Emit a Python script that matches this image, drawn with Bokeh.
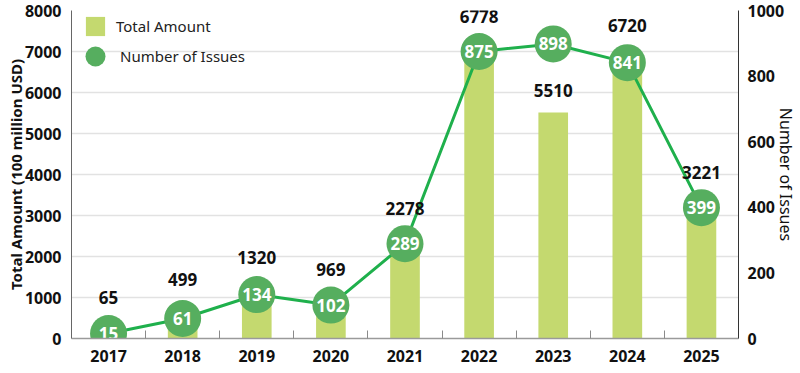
from bokeh.plotting import figure
from bokeh.models import (ColumnDataSource, Range1d, LinearAxis, FixedTicker,
                          Legend, LegendItem)
from bokeh.embed import file_html
from bokeh.resources import INLINE
from bokeh.core.properties import value

# ---- data ----
years = ["2017", "2018", "2019", "2020", "2021", "2022", "2023", "2024", "2025"]
total_amount = [65, 499, 1320, 969, 2278, 6778, 5510, 6720, 3221]
num_issues = [15, 61, 134, 102, 289, 875, 898, 841, 399]
amount_ticks = [0, 1000, 2000, 3000, 4000, 5000, 6000, 7000, 8000]
issues_ticks = [0, 200, 400, 600, 800, 1000]

# ---- styles ----
BAR = "#c4d96f"
DOT = "#56ae5f"
LINE = "#1fb04c"
FONT_NAME = "Noto Sans"
FONT = value(FONT_NAME)
label_lift = [38, 39, 27, 29, 37, 44, 22, 37, 34]  # px above bar top

xs = list(range(len(years)))
src = ColumnDataSource(dict(
    x=xs, amount=total_amount, issues=num_issues,
    amount_txt=[str(v) for v in total_amount],
    issues_txt=[str(v) for v in num_issues],
    lift=[-v for v in label_lift],
))

p = figure(width=800, height=373, x_range=Range1d(-0.5, len(years) - 0.5),
           y_range=Range1d(amount_ticks[0], amount_ticks[-1]),
           output_backend="svg", toolbar_location=None,
           min_border_left=71, min_border_right=62, min_border_top=10, min_border_bottom=35)
p.extra_y_ranges = {"issues": Range1d(issues_ticks[0], issues_ticks[-1])}
p.outline_line_color = None
p.background_fill_color = "white"

# x axis
xa = p.xaxis[0]
xa.ticker = FixedTicker(ticks=xs, minor_ticks=[i + 0.5 for i in xs[:-1]])
xa.major_label_overrides = {i: y for i, y in enumerate(years)}
xa.major_tick_line_color = None
xa.major_tick_in = 0
xa.major_tick_out = 0
xa.minor_tick_in = 8
xa.minor_tick_out = 0
xa.minor_tick_line_color = "#8a8a8a"
xa.axis_line_color = "#9a9a9a"
xa.axis_line_width = 1.5
xa.major_label_text_font = FONT_NAME
xa.major_label_text_font_style = "bold"
xa.major_label_text_font_size = "16px"
xa.major_label_text_color = "#111111"
xa.major_label_standoff = 11

# left axis
ya = p.yaxis[0]
ya.ticker = FixedTicker(ticks=amount_ticks)
ya.major_tick_line_color = None
ya.major_tick_in = 0
ya.major_tick_out = 0
ya.minor_tick_line_color = None
ya.axis_line_color = "#666666"
ya.major_label_text_font = FONT_NAME
ya.major_label_text_font_style = "bold"
ya.major_label_text_font_size = "16px"
ya.major_label_text_color = "#111111"
ya.major_label_standoff = 10
ya.axis_label = "Total Amount (100 million USD)"
ya.axis_label_text_font = FONT_NAME
ya.axis_label_text_font_style = "bold"
ya.axis_label_text_font_size = "15px"
ya.axis_label_text_color = "#111111"
ya.axis_label_standoff = -4

# right axis
ra = LinearAxis(y_range_name="issues", ticker=FixedTicker(ticks=issues_ticks),
                axis_label="Number of Issues")
ra.major_tick_line_color = None
ra.major_tick_in = 0
ra.major_tick_out = 0
ra.minor_tick_line_color = None
ra.axis_line_color = "#333333"
ra.major_label_text_font = FONT_NAME
ra.major_label_text_font_style = "bold"
ra.major_label_text_font_size = "16px"
ra.major_label_text_color = "#111111"
ra.major_label_standoff = 9
ra.axis_label_text_font = FONT_NAME
ra.axis_label_text_font_style = "normal"
ra.axis_label_text_font_size = "16px"
ra.axis_label_text_color = "#111111"
ra.axis_label_standoff = -12
p.add_layout(ra, "right")

p.xgrid.grid_line_color = None
p.ygrid.ticker = FixedTicker(ticks=amount_ticks)
p.ygrid.grid_line_color = "#e2e2e2"
p.ygrid.grid_line_width = 1.5

# glyphs
bars = p.vbar(x="x", top="amount", width=0.4, source=src, fill_color=BAR, line_color=None)
p.line(x="x", y="issues", source=src, y_range_name="issues", line_color=LINE, line_width=3)
dots = p.scatter(x="x", y="issues", source=src, y_range_name="issues", size=37,
                 fill_color=DOT, line_color=None)
p.text(x="x", y="issues", text="issues_txt", source=src, y_range_name="issues",
       text_align="center", text_baseline="middle", text_color="white",
       text_font=FONT, text_font_style="bold", text_font_size="17px")
p.text(x="x", y="amount", text="amount_txt", y_offset="lift", source=src,
       text_align="center", text_baseline="middle", text_color="#111111",
       text_font=FONT, text_font_style="bold", text_font_size="17px")

# legends (two, so each glyph gets its own size)
common = dict(padding=0, margin=0, background_fill_alpha=0, border_line_color=None,
              label_text_font=FONT_NAME, label_text_font_size="15px",
              label_text_color="#222222")
leg_bar = Legend(items=[LegendItem(label="Total Amount", renderers=[bars])],
                 location=(12, 300), glyph_width=24, glyph_height=24,
                 label_standoff=9, **common)
leg_dot = Legend(items=[LegendItem(label="Number of Issues", renderers=[dots])],
                 location=(-1, 257), glyph_width=50, glyph_height=50,
                 label_standoff=-8, **common)
p.add_layout(leg_bar)
p.add_layout(leg_dot)

open("out.html", "w").write(file_html(p, INLINE))
